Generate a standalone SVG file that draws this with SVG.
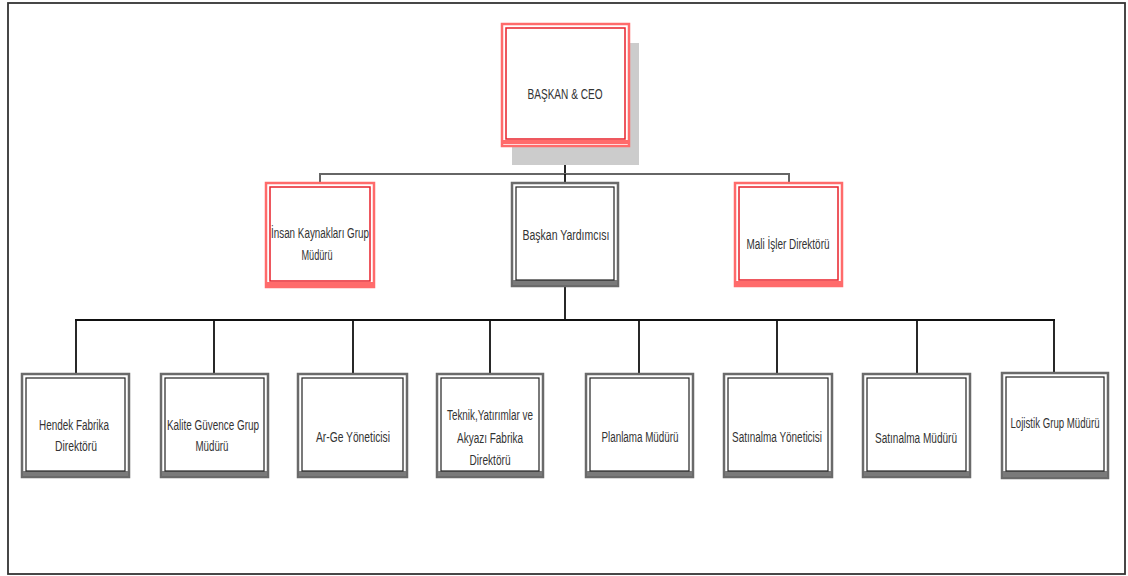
<svg xmlns="http://www.w3.org/2000/svg" width="1128" height="576" viewBox="0 0 1128 576">
<style>
.t{font-family:"Liberation Sans",Arial,sans-serif;font-size:14px;fill:#333;text-anchor:middle}
.bo{fill:#fff;stroke:#6a6a6a;stroke-width:2.5}
.bi{fill:none;stroke:#222;stroke-width:1.2}
.bb{fill:#7a7a7a}
.ro{fill:#fff;stroke:#ff6b6b;stroke-width:2.5}
.ri{fill:none;stroke:#e8202a;stroke-width:1.5}
.rb{fill:#ff6b6b}
.c{fill:none;stroke:#111;stroke-width:1.8}
.c2{fill:none;stroke:#666;stroke-width:2}
</style>
<rect x="0" y="0" width="1128" height="576" fill="#fff"/>
<rect x="8" y="3" width="1117" height="571" fill="none" stroke="#333" stroke-width="1.8"/>
<g id="connectors">
<line class="c" x1="565" y1="145" x2="565" y2="174"/>
<polyline class="c2" points="320,183 320,174 789,174 789,183"/>
<line class="c" x1="565" y1="174" x2="565" y2="183"/>
<line class="c" x1="565" y1="286" x2="565" y2="320"/>
<line class="c" x1="75" y1="320" x2="1055" y2="320"/>
<line class="c" x1="76" y1="320" x2="76" y2="374"/>
<line class="c" x1="214" y1="320" x2="214" y2="374"/>
<line class="c" x1="353" y1="320" x2="353" y2="374"/>
<line class="c" x1="490" y1="320" x2="490" y2="374"/>
<line class="c" x1="639" y1="320" x2="639" y2="374"/>
<line class="c" x1="777" y1="320" x2="777" y2="374"/>
<line class="c" x1="917" y1="320" x2="917" y2="374"/>
<line class="c" x1="1054" y1="320" x2="1054" y2="373"/>
</g>
<g id="ceo">
<rect x="512" y="43" width="127" height="122" fill="#cccccc"/>
<rect class="ro" x="502" y="24" width="127" height="122"/>
<rect class="rb" x="503" y="140" width="125" height="4"/>
<rect class="ri" x="506" y="28" width="119" height="111"/>
<text class="t" x="565" y="99" textLength="75" lengthAdjust="spacingAndGlyphs">BAŞKAN &amp; CEO</text>
</g>
<g id="ik">
<rect class="ro" x="266" y="183" width="108" height="104"/>
<rect class="rb" x="267" y="282" width="106" height="4"/>
<rect class="ri" x="270" y="187" width="100" height="94"/>
<text class="t" x="320" y="238" textLength="98" lengthAdjust="spacingAndGlyphs">İnsan Kaynakları Grup</text>
<text class="t" x="317" y="260" textLength="31" lengthAdjust="spacingAndGlyphs">Müdürü</text>
</g>
<g id="by">
<rect class="bo" x="512" y="183" width="106" height="103"/>
<rect class="bb" x="513" y="280" width="104" height="5"/>
<rect class="bi" x="516" y="187" width="98" height="93"/>
<text class="t" x="566" y="240" textLength="87" lengthAdjust="spacingAndGlyphs">Başkan Yardımcısı</text>
</g>
<g id="mali">
<rect class="ro" x="735" y="183" width="107" height="103"/>
<rect class="rb" x="736" y="281" width="105" height="4"/>
<rect class="ri" x="739" y="187" width="99" height="93"/>
<text class="t" x="788" y="249" textLength="83" lengthAdjust="spacingAndGlyphs">Mali İşler Direktörü</text>
</g>
<g id="hendek">
<rect class="bo" x="22" y="374" width="107" height="103"/>
<rect class="bb" x="23" y="471" width="105" height="5"/>
<rect class="bi" x="26" y="378" width="99" height="93"/>
<text class="t" x="74" y="430" textLength="70" lengthAdjust="spacingAndGlyphs">Hendek Fabrika</text>
<text class="t" x="76" y="451" textLength="42" lengthAdjust="spacingAndGlyphs">Direktörü</text>
</g>
<g id="kalite">
<rect class="bo" x="161" y="374" width="107" height="103"/>
<rect class="bb" x="162" y="471" width="105" height="5"/>
<rect class="bi" x="165" y="378" width="99" height="93"/>
<text class="t" x="213" y="430" textLength="92" lengthAdjust="spacingAndGlyphs">Kalite Güvence Grup</text>
<text class="t" x="212" y="451" textLength="33" lengthAdjust="spacingAndGlyphs">Müdürü</text>
</g>
<g id="arge">
<rect class="bo" x="298" y="374" width="109" height="103"/>
<rect class="bb" x="299" y="471" width="107" height="5"/>
<rect class="bi" x="302" y="378" width="101" height="93"/>
<text class="t" x="353" y="442" textLength="74" lengthAdjust="spacingAndGlyphs">Ar-Ge Yöneticisi</text>
</g>
<g id="teknik">
<rect class="bo" x="437" y="374" width="106" height="103"/>
<rect class="bb" x="438" y="471" width="104" height="5"/>
<rect class="bi" x="441" y="378" width="98" height="93"/>
<text class="t" x="490" y="420" textLength="86" lengthAdjust="spacingAndGlyphs">Teknik,Yatırımlar ve</text>
<text class="t" x="490" y="443" textLength="66" lengthAdjust="spacingAndGlyphs">Akyazı Fabrika</text>
<text class="t" x="490" y="465" textLength="41" lengthAdjust="spacingAndGlyphs">Direktörü</text>
</g>
<g id="planlama">
<rect class="bo" x="586" y="374" width="107" height="103"/>
<rect class="bb" x="587" y="471" width="105" height="5"/>
<rect class="bi" x="590" y="378" width="99" height="93"/>
<text class="t" x="640" y="442" textLength="77" lengthAdjust="spacingAndGlyphs">Planlama Müdürü</text>
</g>
<g id="satyon">
<rect class="bo" x="724" y="374" width="108" height="103"/>
<rect class="bb" x="725" y="471" width="106" height="5"/>
<rect class="bi" x="728" y="378" width="100" height="93"/>
<text class="t" x="777" y="442" textLength="90" lengthAdjust="spacingAndGlyphs">Satınalma Yöneticisi</text>
</g>
<g id="satmud">
<rect class="bo" x="863" y="374" width="107" height="103"/>
<rect class="bb" x="864" y="471" width="105" height="5"/>
<rect class="bi" x="867" y="378" width="99" height="93"/>
<text class="t" x="916" y="443" textLength="82" lengthAdjust="spacingAndGlyphs">Satınalma Müdürü</text>
</g>
<g id="lojistik">
<rect class="bo" x="1002" y="373" width="106" height="105" stroke="#444"/>
<rect class="bb" x="1003" y="471" width="104" height="6" fill="#444"/>
<rect class="bi" x="1006" y="377" width="98" height="94"/>
<text class="t" x="1055" y="428" textLength="89" lengthAdjust="spacingAndGlyphs">Lojistik Grup Müdürü</text>
</g>
</svg>
